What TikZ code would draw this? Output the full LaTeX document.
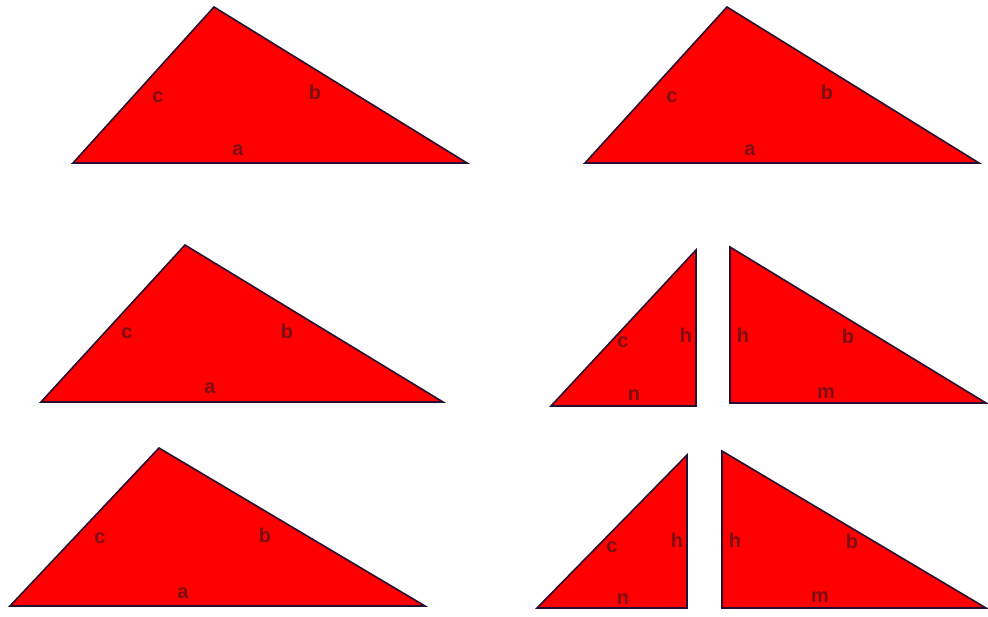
\documentclass[tikz,border=0pt]{standalone}
\usepackage{fontspec}
\setmainfont{Liberation Sans}
\definecolor{rouge}{RGB}{255,0,0}
\definecolor{trait}{RGB}{40,15,50}
\definecolor{lettre}{RGB}{125,15,20}

\begin{document}
\begin{tikzpicture}[x=1pt,y=-1pt,
  tri/.style={fill=rouge,draw=trait,line width=1.6pt},
  lbl/.style={text=lettre,font=\bfseries\fontsize{20}{20}\selectfont,inner sep=0pt}]
\useasboundingbox (0,0) rectangle (988,617);

%triangle en haut a gauche
\coordinate (g1) at (73,163);
\coordinate (s1) at (214,7);
\coordinate (d1) at (467,163);
\draw[tri] (g1) -- (s1) -- (d1) -- cycle;
\node[lbl] (c1) at (158,97) {c};
\node[lbl] (b1) at (315,92) {b};
\node[lbl] (a1) at (238,150) {a};

%triangle en haut a droite
\coordinate (g2) at (585,163);
\coordinate (s2) at (727,7);
\coordinate (d2) at (979,163);
\draw[tri] (g2) -- (s2) -- (d2) -- cycle;
\node[lbl] (c2) at (672,97) {c};
\node[lbl] (b2) at (827,92) {b};
\node[lbl] (a2) at (750,150) {a};

%triangle au milieu a gauche
\coordinate (g3) at (41,402);
\coordinate (s3) at (185,245);
\coordinate (d3) at (443,402);
\draw[tri] (g3) -- (s3) -- (d3) -- cycle;
\node[lbl] (c3) at (127,333) {c};
\node[lbl] (b3) at (287,331) {b};
\node[lbl] (a3) at (210,388) {a};

%les deux morceaux au milieu
\coordinate (g4) at (551,406);
\coordinate (s4) at (696,250);
\coordinate (p4) at (696,406);
\draw[tri] (g4) -- (s4) -- (p4) -- cycle;
\node[lbl] (c4) at (623,342) {c};
\node[lbl] (h4) at (686,335) {h};
\node[lbl] (n4) at (634,395) {n};

\coordinate (s5) at (730,247);
\coordinate (p5) at (730,403);
\coordinate (d5) at (986,403);
\draw[tri] (s5) -- (p5) -- (d5) -- cycle;
\node[lbl] (h5) at (743,335) {h};
\node[lbl] (b5) at (848,336) {b};
\node[lbl] (m5) at (826,393) {m};

%triangle en bas a gauche
\coordinate (g6) at (10,606);
\coordinate (s6) at (159,448);
\coordinate (d6) at (425,606);
\draw[tri] (g6) -- (s6) -- (d6) -- cycle;
\node[lbl] (c6) at (100,538) {c};
\node[lbl] (b6) at (265,535) {b};
\node[lbl] (a6) at (183,593) {a};

%les deux morceaux en bas
\coordinate (g7) at (537,608);
\coordinate (s7) at (687,455);
\coordinate (p7) at (687,608);
\draw[tri] (g7) -- (s7) -- (p7) -- cycle;
\node[lbl] (c7) at (612,547) {c};
\node[lbl] (h7) at (677,540) {h};
\node[lbl] (n7) at (623,599) {n};

\coordinate (s8) at (722,451);
\coordinate (p8) at (722,608);
\coordinate (d8) at (986,608);
\draw[tri] (s8) -- (p8) -- (d8) -- cycle;
\node[lbl] (h8) at (735,540) {h};
\node[lbl] (b8) at (852,541) {b};
\node[lbl] (m8) at (820,597) {m};

\end{tikzpicture}
\end{document}
